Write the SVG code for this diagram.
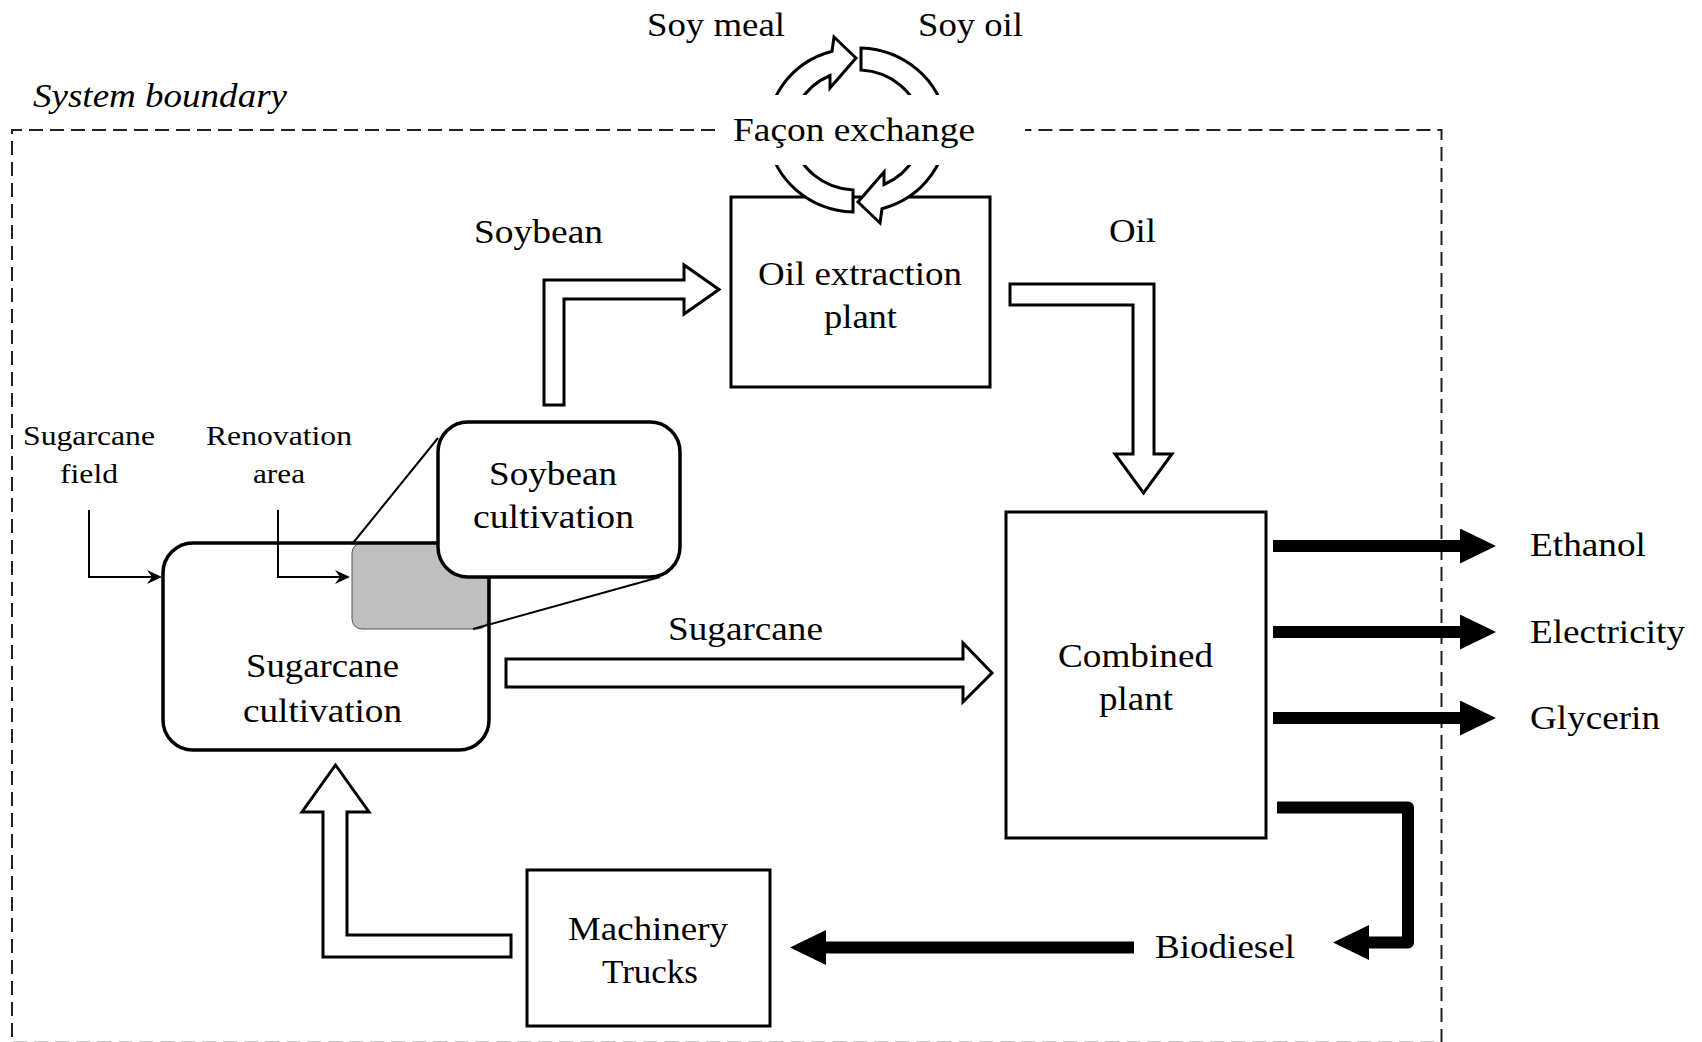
<svg xmlns="http://www.w3.org/2000/svg" width="1702" height="1042" viewBox="0 0 1702 1042">
<defs>
<style>
.t{font-family:"Liberation Serif","Times New Roman",serif;font-size:33px;fill:#000}
.s{font-size:28px}
.it{font-style:italic}
.box{fill:#fff;stroke:#000;stroke-width:3}
.rbox{fill:#fff;stroke:#000;stroke-width:3.5}
.hollow{fill:#fff;stroke:#000;stroke-width:3;stroke-linejoin:miter}
.thin{fill:none;stroke:#000;stroke-width:2}
.thick{fill:none;stroke:#000;stroke-width:12}
.bound{fill:none;stroke:#222;stroke-width:2;stroke-dasharray:14 7}
.lens{fill:none;stroke:#000;stroke-width:2}
</style>
<marker id="mThin" markerUnits="userSpaceOnUse" markerWidth="15" markerHeight="14" viewBox="0 0 15 14" refX="8" refY="7" orient="auto"><path d="M0,0 L15,7 L0,14 L5,7 Z" fill="#000"/></marker>
<marker id="mThick" markerUnits="userSpaceOnUse" markerWidth="36" markerHeight="35" viewBox="0 0 36 35" refX="0" refY="17.5" orient="auto"><path d="M0,0 L36,17.5 L0,35 Z" fill="#000"/></marker>
</defs>
<rect width="1702" height="1042" fill="#fff"/>

<g id="system-boundary">
<path class="bound" d="M715,130 H12 V1042.7 H1441.5 V130 H1025"/>
<text class="t it" x="33" y="107" textLength="254" lengthAdjust="spacingAndGlyphs">System boundary</text>
</g>

<g id="oil-extraction-plant">
<rect class="box" x="731" y="197" width="259" height="190"/>
<text class="t" x="758" y="285" textLength="204" lengthAdjust="spacingAndGlyphs">Oil extraction</text>
<text class="t" x="824" y="328" textLength="73" lengthAdjust="spacingAndGlyphs">plant</text>
</g>

<g id="sugarcane-cultivation">
<rect x="163" y="543" width="326" height="207" rx="30" fill="#fff"/>
<rect x="352" y="543" width="136" height="86" rx="10" fill="#bfbfbf" stroke="#555" stroke-width="1"/>
<rect x="163" y="543" width="326" height="207" rx="30" fill="none" stroke="#000" stroke-width="3.5"/>
<text class="t" x="246" y="677" textLength="153" lengthAdjust="spacingAndGlyphs">Sugarcane</text>
<text class="t" x="243" y="722" textLength="159" lengthAdjust="spacingAndGlyphs">cultivation</text>
</g>

<g id="soybean-cultivation">
<rect class="rbox" x="438" y="422" width="242" height="155" rx="30"/>
<text class="t" x="489" y="485" textLength="128" lengthAdjust="spacingAndGlyphs">Soybean</text>
<text class="t" x="473" y="528" textLength="161" lengthAdjust="spacingAndGlyphs">cultivation</text>
</g>

<g id="combined-plant">
<rect class="box" x="1006" y="512" width="260" height="326"/>
<text class="t" x="1058" y="667" textLength="155" lengthAdjust="spacingAndGlyphs">Combined</text>
<text class="t" x="1099" y="710" textLength="74" lengthAdjust="spacingAndGlyphs">plant</text>
</g>

<g id="machinery-trucks">
<rect class="box" x="527" y="870" width="243" height="156"/>
<text class="t" x="568" y="940" textLength="160" lengthAdjust="spacingAndGlyphs">Machinery</text>
<text class="t" x="602" y="983" textLength="96" lengthAdjust="spacingAndGlyphs">Trucks</text>
</g>

<g id="connectors">
<line class="lens" x1="353" y1="543" x2="438" y2="438"/>
<line class="lens" x1="473" y1="629" x2="660" y2="577"/>
<path class="thin" d="M89,510 V577 H155" marker-end="url(#mThin)"/>
<path class="thin" d="M278,510 V577 H343" marker-end="url(#mThin)"/>
<text class="t s" x="23" y="445" textLength="132" lengthAdjust="spacingAndGlyphs">Sugarcane</text>
<text class="t s" x="60" y="483" textLength="58" lengthAdjust="spacingAndGlyphs">field</text>
<text class="t s" x="206" y="445" textLength="146" lengthAdjust="spacingAndGlyphs">Renovation</text>
<text class="t s" x="253" y="483" textLength="52" lengthAdjust="spacingAndGlyphs">area</text>

<polygon class="hollow" points="544,405 544,280 684,280 684,265 719,289.5 684,314 684,299 564,299 564,405"/>
<text class="t" x="474" y="243" textLength="129" lengthAdjust="spacingAndGlyphs">Soybean</text>

<polygon class="hollow" points="1010,284 1154,284 1154,454 1172,454 1143.5,493 1115,454 1133,454 1133,305 1010,305"/>
<text class="t" x="1109" y="242" textLength="47" lengthAdjust="spacingAndGlyphs">Oil</text>

<polygon class="hollow" points="506,659 963,659 963,643 992,673 963,702 963,687 506,687"/>
<text class="t" x="668" y="640" textLength="155" lengthAdjust="spacingAndGlyphs">Sugarcane</text>

<polygon class="hollow" points="335.5,765 369,812 347,812 347,935 511,935 511,957 323,957 323,812 302,812"/>

<path class="thick" d="M1273,546 H1460" marker-end="url(#mThick)"/>
<path class="thick" d="M1273,632 H1460" marker-end="url(#mThick)"/>
<path class="thick" d="M1273,718 H1460" marker-end="url(#mThick)"/>
<text class="t" x="1530" y="556" textLength="116" lengthAdjust="spacingAndGlyphs">Ethanol</text>
<text class="t" x="1530" y="643" textLength="155" lengthAdjust="spacingAndGlyphs">Electricity</text>
<text class="t" x="1530" y="729" textLength="130" lengthAdjust="spacingAndGlyphs">Glycerin</text>

<path class="thick" d="M1277,807.5 H1408 V942.5 H1369" stroke-linejoin="round" marker-end="url(#mThick)"/>
<text class="t" x="1155" y="958" textLength="140" lengthAdjust="spacingAndGlyphs">Biodiesel</text>
<path class="thick" d="M1134,947.5 H826" marker-end="url(#mThick)"/>

<path class="hollow" d="M853,190 L853,212 A88.5,82 0 0 1 832,51.3 L834,37 L856,58 L830,88 L830,75.5 A64.5,60 0 0 0 853,190 Z"/>
<path class="hollow" d="M861,70 L861,48 A88.5,82 0 0 1 882,208.7 L880,223 L858,202 L884,172 L884,184.5 A64.5,60 0 0 0 861,70 Z"/>
</g>

<g id="facon-exchange">
<rect x="716" y="95" width="308" height="70" fill="#fff"/>
<text class="t" x="733" y="141" textLength="242" lengthAdjust="spacingAndGlyphs">Façon exchange</text>
<text class="t" x="647" y="36" textLength="138" lengthAdjust="spacingAndGlyphs">Soy meal</text>
<text class="t" x="918" y="36" textLength="105" lengthAdjust="spacingAndGlyphs">Soy oil</text>
</g>
</svg>
